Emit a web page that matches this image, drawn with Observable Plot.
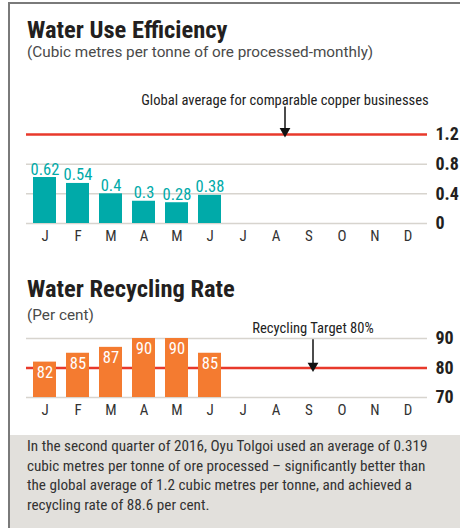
<!DOCTYPE html>
<html>
<head>
<meta charset="utf-8">
<script src="https://cdn.jsdelivr.net/npm/d3@7"></script>
<script src="https://cdn.jsdelivr.net/npm/@observablehq/plot@0.6"></script>
<style>
  body { margin: 0; background: #fff; }
  #page { position: relative; width: 460px; height: 528px; overflow: hidden;
          font-family: "Roboto Condensed", Roboto, sans-serif; font-stretch: condensed; color: #231f20; }
  #frame { position: absolute; left: 8px; top: 2px; width: 460px; height: 540px;
           border-left: 2px solid #7a7a7a; border-top: 2px solid #7a7a7a; box-sizing: border-box; }
  .title { position: absolute; left: 27px; font-weight: 700; font-size: 24.5px; line-height: 1; white-space: nowrap; }
  .sub { position: absolute; left: 27px; font-family: Roboto, sans-serif; font-stretch: normal; font-size: 15.3px;
         line-height: 1; color: #4a4a4a; white-space: nowrap; }
  .chart { position: absolute; left: 0; }
  #note { position: absolute; left: 10px; top: 435px; width: 450px; height: 93px; background: #e2e0dc;
          box-sizing: border-box; padding: 2px 20px 0 17px; font-size: 15.2px; line-height: 19.5px; color: #333; }
  svg text { font-stretch: condensed; }
</style>
</head>
<body>
<div id="page">
  <div id="frame"></div>
  <div class="title" style="top:18px">Water Use Efficiency</div>
  <div class="sub" style="top:45px">(Cubic metres per tonne of ore processed-monthly)</div>
  <div class="chart" id="c1" style="top:62px"></div>
  <div class="title" style="top:277px">Water Recycling Rate</div>
  <div class="sub" style="top:308px">(Per cent)</div>
  <div class="chart" id="c2" style="top:312px"></div>
  <div id="note">In the second quarter of 2016, Oyu Tolgoi used an average of 0.319 cubic metres per tonne of ore processed – significantly better than the global average of 1.2 cubic metres per tonne, and achieved a recycling rate of 88.6 per cent.</div>
</div>
<script>
// ---- data ----
const months = ["J","F","M","A","M ","J ","J  ","A ","S","O","N","D"];
const monthLabels = ["J","F","M","A","M","J","J","A","S","O","N","D"];
const effMonths = ["J","F","M","A","M ","J "];
const effValues = [0.62, 0.54, 0.4, 0.3, 0.28, 0.38];
const effLabels = ["0.62","0.54","0.4","0.3","0.28","0.38"];
const effTicks = [0, 0.4, 0.8, 1.2];
const effTickLabels = ["0","0.4","0.8","1.2"];
const effGlobalAvg = 1.2;
const effAnnotation = "Global average for comparable copper businesses";

const recMonths = ["J","F","M","A","M ","J "];
const recValues = [82, 85, 87, 90, 90, 85];
const recLabels = ["82","85","87","90","90","85"];
const recTicks = [70, 80, 90];
const recTickLabels = ["70","80","90"];
const recTarget = 80;
const recAnnotation = "Recycling Target 80%";

const FONT = '"Roboto Condensed", Roboto, sans-serif';
const TEAL = "#00aaa9", ORANGE = "#f47b30", RED = "#e8392b", GRID = "#d7d4ce";
const monthFmt = d => monthLabels[months.indexOf(d)];

const effData = effMonths.map((m, i) => ({month: m, value: effValues[i], label: effLabels[i]}));
const recData = recMonths.map((m, i) => ({month: m, value: recValues[i], label: recLabels[i]}));

const xOpts = {domain: months, paddingInner: 0.3, paddingOuter: 0.15};

const c1 = Plot.plot({
  width: 460, height: 185,
  marginLeft: 26, marginRight: 33, marginTop: 72, marginBottom: 24,
  style: {fontFamily: FONT, background: "transparent", overflow: "visible"},
  x: {...xOpts, axis: null},
  y: {domain: [0, 1.2], axis: null},
  marks: [
    Plot.ruleY(effTicks.filter(t => t !== effGlobalAvg), {stroke: GRID, strokeWidth: 1.5}),
    Plot.barY(effData, {x: "month", y: "value", fill: TEAL}),
    Plot.text(effData, {x: "month", y: "value", text: "label", fill: TEAL, fontSize: 16.5, lineAnchor: "bottom", dy: -3}),
    Plot.ruleY([effGlobalAvg], {stroke: RED, strokeWidth: 2.5}),
    Plot.axisX({domain: months, label: null, tickSize: 0, tickPadding: 7, fontSize: 15, tickFormat: monthFmt, fill: "#333"}),
    Plot.axisY({anchor: "right", label: null, ticks: effTicks, tickSize: 0, tickPadding: 8, fontSize: 18, fontWeight: "bold",
                fill: "#231f20", tickFormat: d => effTickLabels[effTicks.indexOf(d)]}),
    Plot.text([effAnnotation], {x: ["A "], y: [effGlobalAvg], text: d => d, dx: 9, dy: -30, fontSize: 14.6, fill: "#222", lineAnchor: "bottom"}),
    Plot.ruleX(["A "], {y1: 1.57, y2: 1.24, dx: 9, stroke: "#111", strokeWidth: 1.5}),
    Plot.dot(["A "], {x: d => d, y: [1.245], dx: 9, symbol: "triangle", rotate: 180, r: 4, fill: "#111", stroke: null})
  ]
});
document.getElementById("c1").appendChild(c1);

const c2 = Plot.plot({
  width: 460, height: 108,
  marginLeft: 26, marginRight: 33, marginTop: 26, marginBottom: 23,
  style: {fontFamily: FONT, background: "transparent", overflow: "visible"},
  x: {...xOpts, axis: null},
  y: {domain: [70, 90], axis: null},
  marks: [
    Plot.ruleY(recTicks.filter(t => t !== recTarget), {stroke: GRID, strokeWidth: 1.5}),
    Plot.ruleY([recTarget], {stroke: RED, strokeWidth: 2.5}),
    Plot.barY(recData, {x: "month", y1: 70, y2: "value", fill: ORANGE}),
    Plot.text(recData, {x: "month", y: "value", text: "label", fill: "#fff", fontSize: 16.5, lineAnchor: "top", dy: 4}),
    Plot.axisX({domain: months, label: null, tickSize: 0, tickPadding: 7, fontSize: 15, tickFormat: monthFmt, fill: "#333"}),
    Plot.axisY({anchor: "right", label: null, ticks: recTicks, tickSize: 0, tickPadding: 8, fontSize: 18, fontWeight: "bold",
                fill: "#231f20", tickFormat: d => recTickLabels[recTicks.indexOf(d)]}),
    Plot.text([recAnnotation], {x: ["S"], y: [90], text: d => d, dx: 4, dy: -6, fontSize: 14.6, fill: "#222", lineAnchor: "bottom"}),
    Plot.ruleX(["S"], {y1: 89.6, y2: 80.9, dx: 4, stroke: "#111", strokeWidth: 1.5}),
    Plot.dot(["S"], {x: d => d, y: [80.75], dx: 4, symbol: "triangle", rotate: 180, r: 4, fill: "#111", stroke: null})
  ]
});
document.getElementById("c2").appendChild(c2);
</script>
</body>
</html>
